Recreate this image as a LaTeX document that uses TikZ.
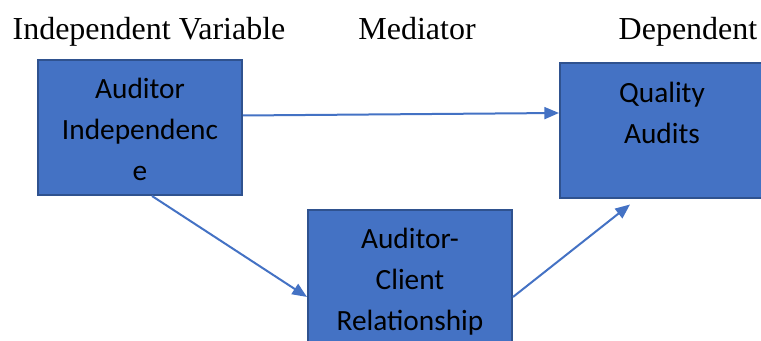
\documentclass[tikz,border=0pt]{standalone}
\usepackage{fontspec}
\setmainfont{Liberation Serif}
\newfontfamily\boxfont{Carlito}
\usetikzlibrary{arrows.meta}
\definecolor{boxblue}{HTML}{4472C4}
\definecolor{boxedge}{HTML}{2F528F}
\tikzset{>={Triangle[length=11pt,width=9pt]}}
\tikzset{
  varbox/.style={draw=boxedge, line width=1.5pt, fill=boxblue,
    minimum width=153pt, minimum height=101.25pt, inner sep=0pt},
  boxtext/.style={font=\boxfont\fontsize{22}{30.75}\selectfont,
    align=center, anchor=base, inner sep=0pt},
  heading/.style={font=\fontsize{24}{28}\selectfont, anchor=base, inner sep=0pt},
  link/.style={->, draw=boxblue, line width=1.5pt}
}

\begin{document}
\begin{tikzpicture}[x=0.75pt,y=-0.75pt]
\useasboundingbox (0,0) rectangle (761,341);
\clip (0,0) rectangle (761,341);

% column headings
\node[heading] (ivhead) at (149,40) {Independent Variable};
\node[heading] (medhead) at (417,40) {Mediator};
\node[heading] (dvhead) at (688,40) {Dependent};

% the three variables
\node[varbox] (iv) at (140,127.5) {};
\node[varbox] (med) at (410,277.5) {};
\node[varbox] (dv) at (662,131) {};

% base sits on the last line, first line is 30pt under the top edge
\node[boxtext] (ivtext) at ([yshift=-91.5pt]iv.north) {Auditor\\Independenc\\e};
\node[boxtext] (medtext) at ([yshift=-91.5pt]med.north) {Auditor-\\Client\\Relationship};
\node[boxtext] (dvtext) at ([yshift=-60.75pt]dv.north) {Quality\\Audits};

% paths
\draw[link] ([yshift=9pt]iv.east) -- ([yshift=13.5pt]dv.west);
\draw[link] ([xshift=9pt]iv.south) -- ([yshift=-14.6pt]med.west);
\draw[link] ([yshift=-14.6pt]med.east) -- ([xshift=-24pt,yshift=-3.75pt]dv.south);
\end{tikzpicture}
\end{document}
